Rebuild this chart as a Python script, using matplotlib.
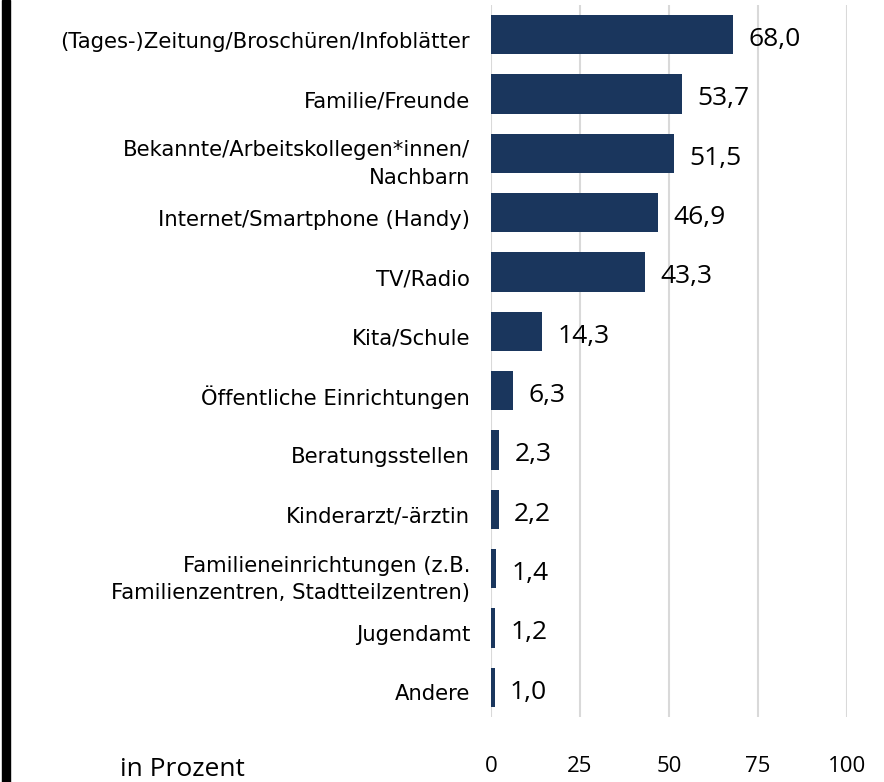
import matplotlib.pyplot as plt
from matplotlib.patches import Rectangle
from matplotlib.transforms import ScaledTranslation

# Data
categories = [
    "(Tages-)Zeitung/Broschüren/Infoblätter",
    "Familie/Freunde",
    "Bekannte/Arbeitskollegen*innen/\nNachbarn",
    "Internet/Smartphone (Handy)",
    "TV/Radio",
    "Kita/Schule",
    "Öffentliche Einrichtungen",
    "Beratungsstellen",
    "Kinderarzt/-ärztin",
    "Familieneinrichtungen (z.B.\nFamilienzentren, Stadtteilzentren)",
    "Jugendamt",
    "Andere",
]
values = [68.0, 53.7, 51.5, 46.9, 43.3, 14.3, 6.3, 2.3, 2.2, 1.4, 1.2, 1.0]
xticks = [0, 25, 50, 75, 100]

BAR_COLOR = "#1a365d"
plt.rcParams["font.family"] = ["DejaVu Sans"]

fig = plt.figure(figsize=(8.84, 7.82), dpi=100)
ax = fig.add_axes([0.5554, 0.0831, 0.4027, 0.9105])

y = list(range(len(categories)))
ax.barh(y, values, height=0.66, color=BAR_COLOR, zorder=3)
ax.set_ylim(len(categories) - 0.5, -0.5)
ax.set_xlim(0, 100)

# value labels
for yi, v in zip(y, values):
    ax.text(v + 4.3, yi + 0.08, f"{v:.1f}".replace(".", ","), va="center",
            ha="left", fontsize=19, color="black", zorder=4,
            family=["Open Sans", "DejaVu Sans"])

ax.set_yticks(y)
ax.set_yticklabels(categories, fontsize=15.2, linespacing=1.45)
ax.tick_params(axis="y", length=0, pad=15)
shift = ScaledTranslation(0, -5 / 100, fig.dpi_scale_trans)
for lbl in ax.get_yticklabels():
    lbl.set_horizontalalignment("right")
    lbl.set_multialignment("right")
    lbl.set_transform(lbl.get_transform() + shift)

ax.set_xticks(xticks)
ax.set_xticklabels([str(t) for t in xticks], fontsize=16,
                   family=["Open Sans", "DejaVu Sans"])
ax.tick_params(axis="x", length=0, pad=28)

ax.grid(axis="x", color="#d9d9d9", linewidth=1.5, zorder=0)
for s in ax.spines.values():
    s.set_visible(False)

fig.text(0.136, 0.0, "in Prozent", fontsize=19, ha="left", va="bottom",
         family=["Open Sans", "DejaVu Sans"])

# black strip on the left edge
fig.patches.append(Rectangle((0.002, 0), 0.009, 1, transform=fig.transFigure,
                             color="black", zorder=10))

fig.savefig("out.png", dpi=100, facecolor="white")
